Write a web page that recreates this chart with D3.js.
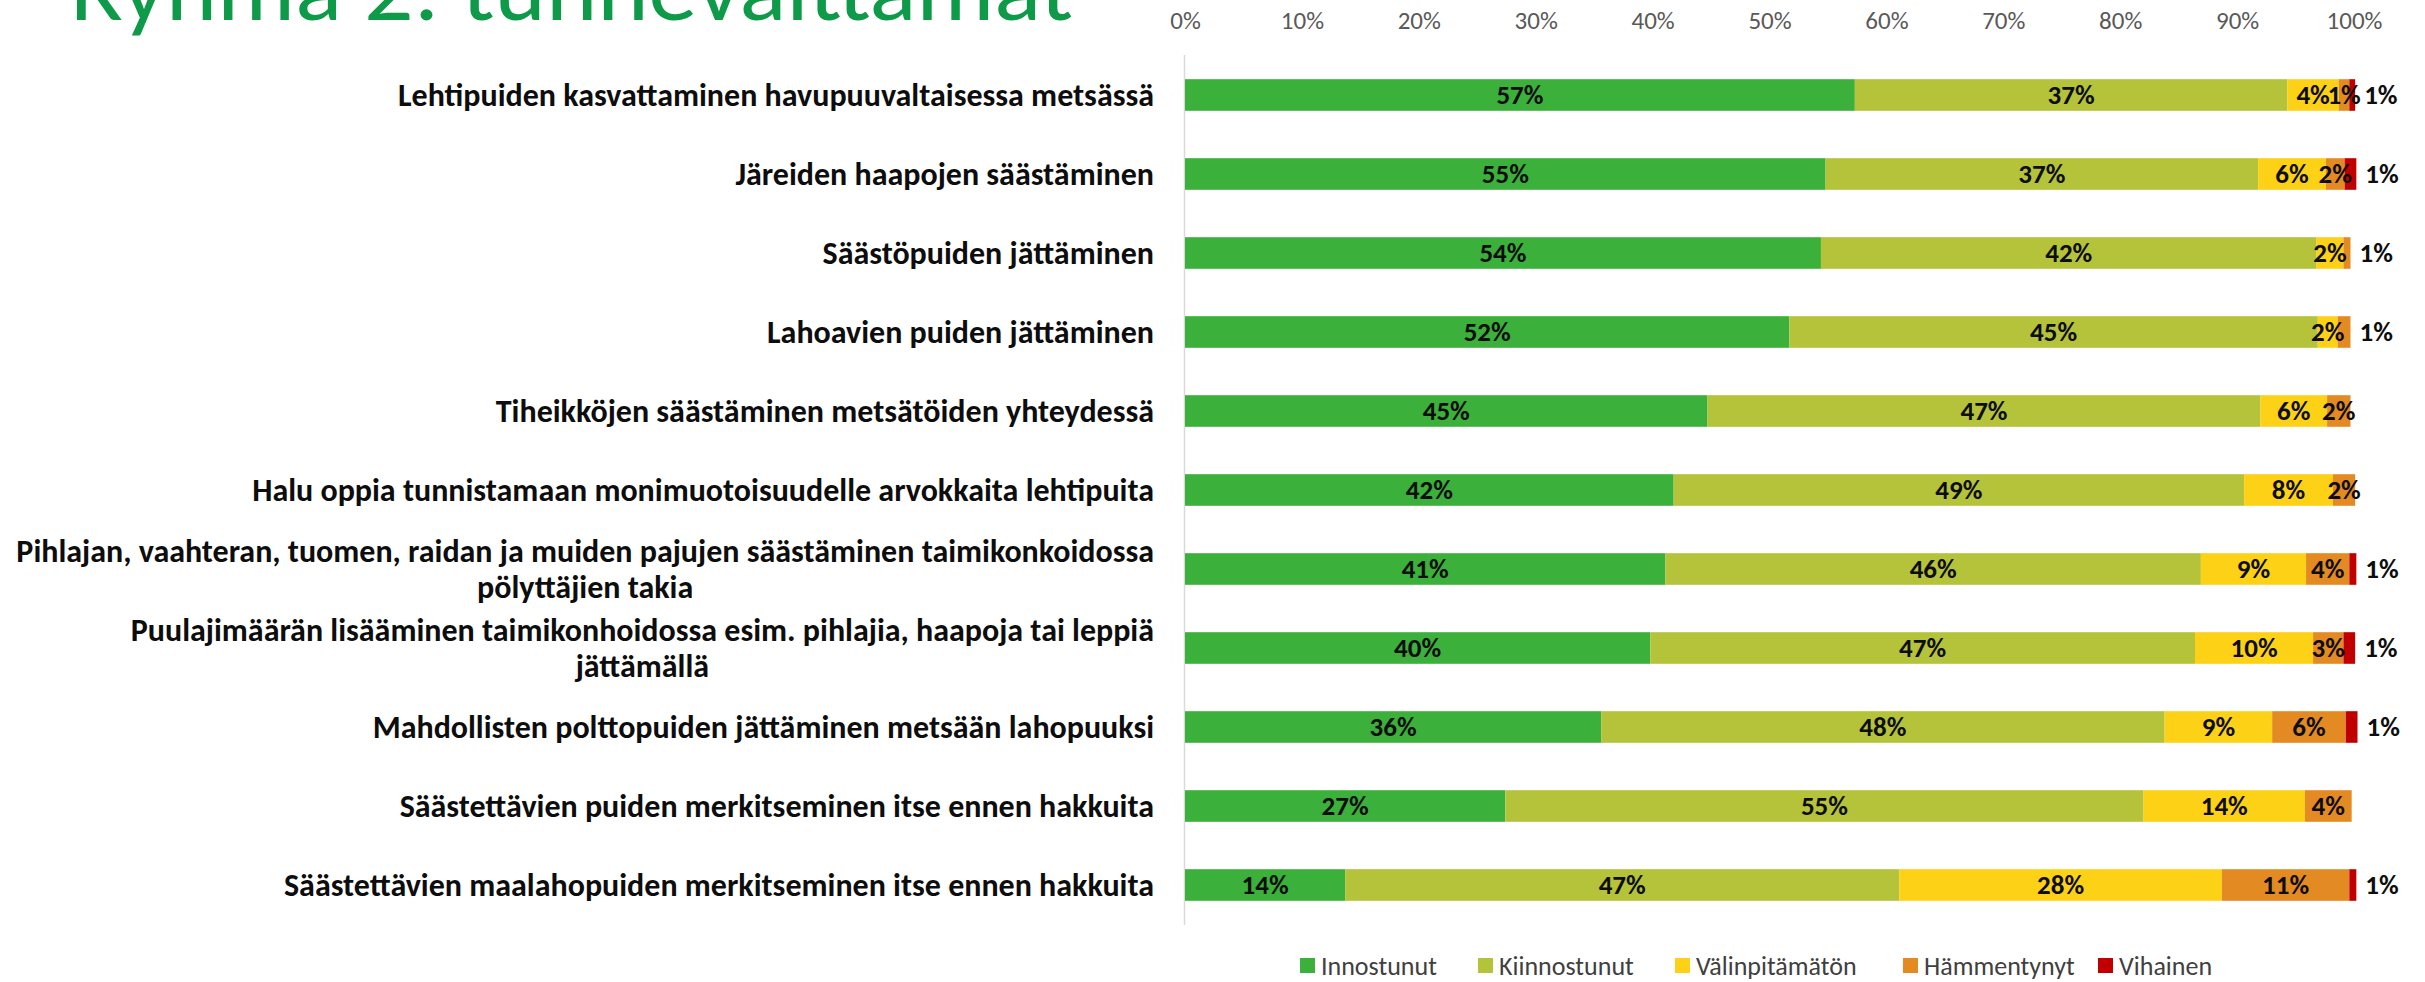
<!DOCTYPE html>
<html>
<head>
<meta charset="utf-8">
<script src="https://cdn.jsdelivr.net/npm/d3@7"></script>
<style>
  html, body { margin: 0; padding: 0; background: #ffffff; overflow: hidden; }
  svg { display: block; }
  text { font-family: Carlito, "Liberation Sans Narrow", "DejaVu Sans Condensed", sans-serif; }
</style>
</head>
<body>
<svg id="chart" width="2425" height="982"></svg>
<script>
const title = "Ryhmä 2: tunneväittämät";

const categories = [
  ["Lehtipuiden kasvattaminen havupuuvaltaisessa metsässä"],
  ["Järeiden haapojen säästäminen"],
  ["Säästöpuiden jättäminen"],
  ["Lahoavien puiden jättäminen"],
  ["Tiheikköjen säästäminen metsätöiden yhteydessä"],
  ["Halu oppia tunnistamaan monimuotoisuudelle arvokkaita lehtipuita"],
  ["Pihlajan, vaahteran, tuomen, raidan ja muiden pajujen säästäminen taimikonkoidossa", "pölyttäjien takia"],
  ["Puulajimäärän lisääminen taimikonhoidossa esim. pihlajia, haapoja tai leppiä", "jättämällä"],
  ["Mahdollisten polttopuiden jättäminen metsään lahopuuksi"],
  ["Säästettävien puiden merkitseminen itse ennen hakkuita"],
  ["Säästettävien maalahopuiden merkitseminen itse ennen hakkuita"]
];

const seriesNames = ["Innostunut", "Kiinnostunut", "Välinpitämätön", "Hämmentynyt", "Vihainen"];

const innostunut     = [57.3, 54.8, 54.4, 51.7, 44.7, 41.8, 41.1, 39.8, 35.6, 27.4, 13.7];
const kiinnostunut   = [37.0, 37.0, 42.4, 45.2, 47.3, 48.8, 45.8, 46.6, 48.2, 54.6, 47.4];
const valinpitamaton = [4.4, 5.8, 2.3, 1.7, 5.7, 7.6, 9.0, 10.1, 9.2, 13.8, 27.6];
const hammentynyt    = [0.9, 1.6, 0.6, 1.1, 2.0, 1.9, 3.7, 2.6, 6.3, 4.0, 10.9];
const vihainen       = [0.5, 1.0, 0, 0, 0, 0, 0.6, 1.0, 1.0, 0, 0.6];

const xTicks = [0, 10, 20, 30, 40, 50, 60, 70, 80, 90, 100];

const colors = ["#3BB03A", "#B5C33B", "#FDD116", "#E48A22", "#C00000"];

const seriesValues = [innostunut, kiinnostunut, valinpitamaton, hammentynyt, vihainen];

const svg = d3.select("#chart");

// Title (partially outside the top edge, as in the reference)
svg.append("text")
  .attr("x", 70)
  .attr("y", 20)
  .attr("fill", "#0E9A48")
  .style("font-family", "Carlito, 'Open Sans', 'Noto Sans', sans-serif")
  .style("font-weight", 300)
  .style("font-size", "92px")
  .attr("textLength", 1003)
  .attr("lengthAdjust", "spacingAndGlyphs")
  .text(title);

const x = d3.scaleLinear().domain([0, 100]).range([1185, 2354]);
const y = d3.scaleBand()
  .domain(d3.range(categories.length))
  .range([55.5, 924.5])
  .paddingInner(0.6)
  .paddingOuter(0.3);

// Top axis
const xAxis = d3.axisTop(x).tickValues(xTicks).tickFormat(d => d + "%").tickSize(0).tickPadding(0);
const gx = svg.append("g").attr("transform", "translate(0,29)").call(xAxis);
gx.select(".domain").remove();
gx.selectAll("text")
  .attr("fill", "#595959")
  .style("font-size", "25px")
  .style("font-family", "Carlito, 'Liberation Sans Narrow', 'DejaVu Sans Condensed', sans-serif");

// Vertical category axis line
svg.append("line")
  .attr("x1", x(0) - 0.5).attr("x2", x(0) - 0.5)
  .attr("y1", 55).attr("y2", 925)
  .attr("stroke", "#D9D9D9").attr("stroke-width", 1.5);

// Stack data
const rows = categories.map((c, i) => {
  let acc = 0;
  return seriesValues.map((vals, s) => {
    const v = vals[i];
    const seg = { row: i, s, v, x0: acc, x1: acc + v };
    acc += v;
    return seg;
  });
});

const gBars = svg.append("g");
rows.forEach((segs, i) => {
  const nonzero = segs.filter(d => d.v > 0);
  const last = nonzero[nonzero.length - 1];
  segs.forEach(d => {
    if (d.v <= 0) return;
    gBars.append("rect")
      .attr("x", x(d.x0))
      .attr("y", y(i))
      .attr("width", x(d.x1) - x(d.x0))
      .attr("height", y.bandwidth())
      .attr("fill", colors[d.s]);
  });
  segs.forEach(d => {
    if (d.v <= 0) return;
    const outside = (d === last && d.v < 1.5);
    const label = Math.round(d.v) + "%";
    gBars.append("text")
      .attr("x", outside ? x(d.x1) + 9 : (x(d.x0) + x(d.x1)) / 2)
      .attr("y", y(i) + y.bandwidth() / 2)
      .attr("dy", "0.35em")
      .attr("text-anchor", outside ? "start" : "middle")
      .attr("fill", "#0D0D0D")
      .style("font-weight", "bold")
      .style("font-size", "27px")
      .text(label);
  });
});

// Category labels
const gLab = svg.append("g");
const labSize = "32px";
categories.forEach((lines, i) => {
  const cy = y(i) + y.bandwidth() / 2;
  const lh = 36;
  const t = gLab.append("text")
    .attr("fill", "#0D0D0D")
    .style("font-weight", "bold")
    .style("font-size", labSize);
  if (lines.length === 1) {
    t.attr("x", 1154).attr("y", cy).attr("dy", "0.35em").attr("text-anchor", "end").text(lines[0]);
  } else {
    t.attr("x", 1154).attr("y", cy - lh / 2).attr("dy", "0.35em").attr("text-anchor", "end").text(lines[0]);
    const w = t.node().getComputedTextLength();
    gLab.append("text")
      .attr("fill", "#0D0D0D")
      .style("font-weight", "bold")
      .style("font-size", labSize)
      .attr("x", 1154 - w / 2)
      .attr("y", cy + lh / 2)
      .attr("dy", "0.35em")
      .attr("text-anchor", "middle")
      .text(lines[1]);
  }
});

// Legend
const legendX = [1300, 1478, 1675, 1903, 2098];
const gLeg = svg.append("g");
seriesNames.forEach((name, s) => {
  gLeg.append("rect")
    .attr("x", legendX[s]).attr("y", 958)
    .attr("width", 15).attr("height", 15)
    .attr("fill", colors[s]);
  gLeg.append("text")
    .attr("x", legendX[s] + 21)
    .attr("y", 966)
    .attr("dy", "0.35em")
    .attr("fill", "#404040")
    .style("font-size", "26px")
    .text(name);
});
</script>
</body>
</html>
